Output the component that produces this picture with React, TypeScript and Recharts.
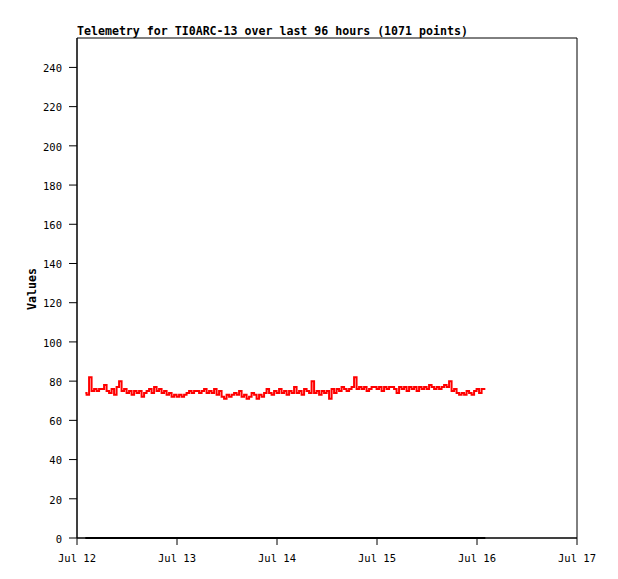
import React from "react";
import { LineChart, Line, XAxis, YAxis, ReferenceArea } from "recharts";

const title = "Telemetry for TI0ARC-13 over last 96 hours (1071 points)";
const yLabel = "Values";
const xTickHours = [0, 24, 48, 72, 96, 120];
const xTickLabels = ["Jul 12", "Jul 13", "Jul 14", "Jul 15", "Jul 16", "Jul 17"];
const yTicks = [0, 20, 40, 60, 80, 100, 120, 140, 160, 180, 200, 220, 240];

const startHour = 2;
const stepHours = 0.6;
const values = [
  74, 73, 82, 75, 76,
  75, 76, 76, 78, 75,
  74, 76, 73, 77, 80, 75,
  76, 74, 75, 73, 75,
  74, 75, 72, 74, 75,
  76, 74, 77, 75, 76,
  74, 75, 73, 74, 72,
  73, 72, 73, 72, 73,
  74, 75, 74, 75, 75,
  74, 75, 76, 74, 75,
  74, 76, 73, 75, 72,
  71, 73, 72, 73, 74,
  73, 75, 72, 73, 71,
  72, 74, 73, 71, 73,
  72, 74, 76, 74, 73,
  75, 74, 76, 74, 75,
  73, 75, 74, 77, 74,
  75, 73, 76, 75, 74,
  80, 74, 75, 73, 75,
  74, 75, 71, 76, 74,
  76, 75, 77, 76, 75,
  76, 77, 82, 76, 77,
  76, 77, 75, 76, 77,
  77, 76, 77, 75, 77,
  76, 77, 77, 76, 74,
  77, 76, 77, 75, 77,
  76, 77, 75, 77, 76,
  77, 76, 78, 77, 76,
  77, 76, 77, 78, 77,
  80, 75, 76, 74, 73,
  74, 73, 75, 74, 73,
  75, 76, 74, 76, 76,
];

const data = values.map((v, i) => ({
  h: startHour + i * stepHours,
  v,
  base: 0,
}));

const font = "'DejaVu Sans Mono', monospace";

export default function App() {
  return (
    <div style={{ position: "fixed", left: 0, top: 0, width: 618, height: 579, background: "#fff" }}>
      <div
        style={{
          position: "absolute",
          left: 77,
          top: 24,
          fontFamily: font,
          fontWeight: "bold",
          fontSize: 11.6,
          color: "#000",
          whiteSpace: "nowrap",
          lineHeight: "14px",
        }}
      >
        {title}
      </div>
      <div
        style={{
          position: "absolute",
          left: 32,
          top: 289,
          transform: "translate(-50%, -50%) rotate(-90deg)",
          fontFamily: font,
          fontWeight: "bold",
          fontSize: 11.6,
          color: "#000",
          whiteSpace: "nowrap",
        }}
      >
        {yLabel}
      </div>
      <LineChart
        width={618}
        height={579}
        data={data}
        margin={{ top: 38, right: 41, bottom: 11, left: 27 }}
      >
        <XAxis
          dataKey="h"
          type="number"
          domain={[0, 120]}
          ticks={xTickHours}
          tickFormatter={(t: number) => xTickLabels[xTickHours.indexOf(t)]}
          height={30}
          tickSize={7}
          tickMargin={10}
          stroke="#000"
          tick={{ fill: "#000", fontFamily: font, fontSize: 10.5 }}
          interval={0}
        />
        <YAxis
          type="number"
          domain={[0, 255]}
          ticks={yTicks}
          width={50}
          tickSize={8}
          tickMargin={7}
          stroke="#000"
          tick={{ fill: "#000", fontFamily: font, fontSize: 10.5, dy: 1 }}
          interval={0}
        />
        <ReferenceArea x1={0} x2={120} y1={0} y2={255} fill="none" stroke="#000" strokeWidth={1} ifOverflow="visible" />
        <Line
          dataKey="base"
          stroke="#000"
          strokeWidth={2}
          dot={false}
          isAnimationActive={false}
          type="linear"
        />
        <Line
          dataKey="v"
          stroke="#ff0000"
          strokeWidth={2}
          dot={false}
          isAnimationActive={false}
          type="step"
        />
      </LineChart>
    </div>
  );
}
